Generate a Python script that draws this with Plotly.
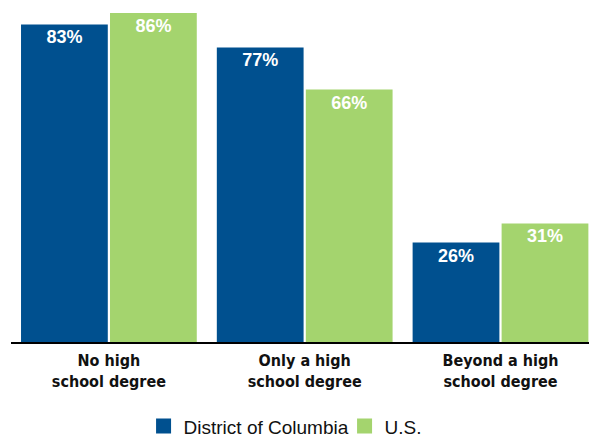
import plotly.graph_objects as go

categories = ["No high<br>school degree", "Only a high<br>school degree", "Beyond a high<br>school degree"]
dc_values = [83, 77, 26]
us_values = [86, 66, 31]
series_names = ["District of Columbia", "U.S."]
colors = ["#00508F", "#A4D46E"]

fig = go.Figure()
for name, vals, col in zip(series_names, [dc_values, us_values], colors):
    fig.add_trace(go.Bar(
        x=categories, y=vals, name=name, marker=dict(color=col, line=dict(width=0)),
        text=[f"{v}%" for v in vals], textposition="inside", insidetextanchor="end",
        textangle=0, textfont=dict(color="white", size=18, family="Liberation Sans", weight="bold"),
        showlegend=False, hoverinfo="skip",
    ))
    fig.add_trace(go.Scatter(
        x=[None], y=[None], mode="markers", name=name,
        marker=dict(symbol="square", size=15, color=col),
    ))

fig.update_layout(
    width=589, height=439,
    margin=dict(l=11, r=0, t=0, b=97, autoexpand=False),
    paper_bgcolor="white", plot_bgcolor="white",
    barmode="group", bargap=0.091, bargroupgap=0.025,
    font=dict(family="Liberation Sans", color="#111111"),
    xaxis=dict(range=[-0.5, 2.452], showline=True, linecolor="black", linewidth=2,
               showgrid=False, zeroline=False, ticks="", automargin=False, ticklabelstandoff=3,
               tickfont=dict(family="DejaVu Sans Condensed", size=16, color="#111111", weight="bold")),
    yaxis=dict(range=[0, 89.4], visible=False, showgrid=False, zeroline=False, automargin=False),
    legend=dict(orientation="h", xref="container", yref="container", x=0.585, xanchor="center",
                y=0.029, yanchor="middle", font=dict(size=19, family="Liberation Sans", color="#111111"),
                itemsizing="trace", tracegroupgap=0, itemwidth=30, entrywidth=156),
)
fig.write_html("out.html", post_script="document.body.style.margin='0';",
               config={"displayModeBar": False})
